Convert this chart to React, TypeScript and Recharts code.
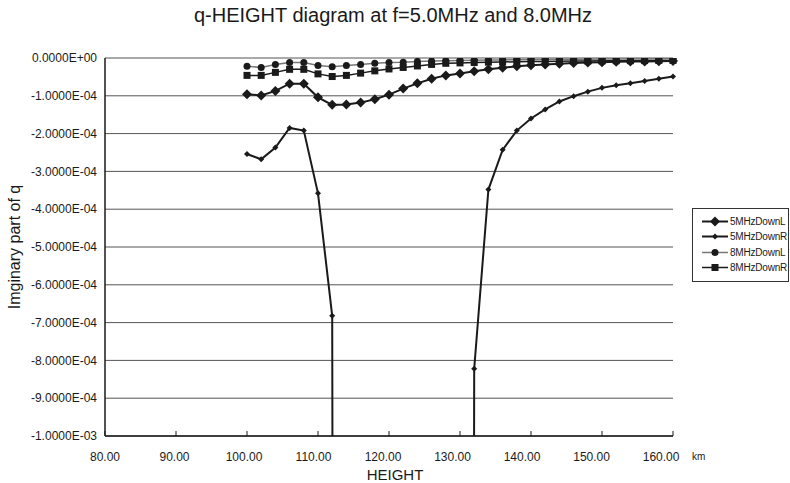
import React from "react"
import { LineChart, Line, XAxis, YAxis, CartesianGrid } from "recharts"

const heights = [100, 102, 104, 106, 108, 110, 112, 114, 116, 118, 120, 122, 124, 126, 128, 130, 132, 134, 136, 138, 140, 142, 144, 146, 148, 150, 152, 154, 156, 158, 160]

const down5L = [-0.96e-4, -0.99e-4, -0.87e-4, -0.68e-4, -0.68e-4, -1.04e-4, -1.24e-4, -1.23e-4, -1.18e-4, -1.09e-4, -0.97e-4, -0.81e-4, -0.67e-4, -0.55e-4, -0.46e-4, -0.41e-4, -0.35e-4, -0.30e-4, -0.26e-4, -0.22e-4, -0.19e-4, -0.17e-4, -0.15e-4, -0.13e-4, -0.12e-4, -0.11e-4, -0.10e-4, -0.095e-4, -0.09e-4, -0.085e-4, -0.08e-4]
// 114..130 fall far below the plotted range
const down5R = [-2.54e-4, -2.68e-4, -2.37e-4, -1.85e-4, -1.92e-4, -3.58e-4, -6.82e-4, -2.1e-2, -3.4e-2, -4.5e-2, -5.2e-2, -5.0e-2, -4.4e-2, -3.6e-2, -2.9e-2, -2.2e-2, -8.22e-4, -3.48e-4, -2.43e-4, -1.92e-4, -1.60e-4, -1.36e-4, -1.15e-4, -1.01e-4, -0.89e-4, -0.79e-4, -0.72e-4, -0.67e-4, -0.61e-4, -0.55e-4, -0.49e-4]
const down8L = [-0.22e-4, -0.25e-4, -0.17e-4, -0.12e-4, -0.12e-4, -0.20e-4, -0.23e-4, -0.20e-4, -0.17e-4, -0.14e-4, -0.12e-4, -0.11e-4, -0.09e-4, -0.08e-4, -0.07e-4, -0.065e-4, -0.06e-4, -0.055e-4, -0.05e-4, -0.045e-4, -0.04e-4, -0.038e-4, -0.035e-4, -0.033e-4, -0.03e-4, -0.028e-4, -0.026e-4, -0.024e-4, -0.022e-4, -0.02e-4, -0.02e-4]
const down8R = [-0.46e-4, -0.46e-4, -0.38e-4, -0.30e-4, -0.30e-4, -0.42e-4, -0.49e-4, -0.46e-4, -0.40e-4, -0.34e-4, -0.29e-4, -0.25e-4, -0.21e-4, -0.17e-4, -0.14e-4, -0.13e-4, -0.12e-4, -0.11e-4, -0.105e-4, -0.10e-4, -0.095e-4, -0.09e-4, -0.085e-4, -0.08e-4, -0.078e-4, -0.075e-4, -0.072e-4, -0.07e-4, -0.068e-4, -0.066e-4, -0.065e-4]

const xTicks = [80, 90, 100, 110, 120, 130, 140, 150, 160]
const yTicks = [0, -1e-4, -2e-4, -3e-4, -4e-4, -5e-4, -6e-4, -7e-4, -8e-4, -9e-4, -1e-3]

const data = heights.map((h, i) => ({
  h,
  d5L: down5L[i],
  d5R: down5R[i],
  d8L: down8L[i],
  d8R: down8R[i],
}))

const FONT = '"Liberation Sans", Arial, sans-serif'
const INK = "#1a1a1a"

const fmtExp = (v: number) => {
  if (v === 0) return "0.0000E+00"
  const [m, e] = v.toExponential(4).split("e")
  const n = parseInt(e, 10)
  return `${m}E${n < 0 ? "-" : "+"}${String(Math.abs(n)).padStart(2, "0")}`
}

const diamond = (s: number) => (props: any) => {
  const { cx, cy, index } = props
  if (cx == null || cy == null) return <g key={index} />
  return <path key={index} d={`M${cx},${cy - s}L${cx + s},${cy}L${cx},${cy + s}L${cx - s},${cy}Z`} fill={INK} />
}
const circle = (r: number) => (props: any) => {
  const { cx, cy, index } = props
  if (cx == null || cy == null) return <g key={index} />
  return <circle key={index} cx={cx} cy={cy} r={r} fill={INK} />
}
const square = (s: number) => (props: any) => {
  const { cx, cy, index } = props
  if (cx == null || cy == null) return <g key={index} />
  return <rect key={index} x={cx - s} y={cy - s} width={s * 2} height={s * 2} fill={INK} />
}

const XTick = (props: any) => {
  const { x, y, payload } = props
  const lx = x - (x - 105) * 0.021
  return (
    <g>
      <line x1={x} y1={y} x2={x} y2={y - 5} stroke={INK} />
      <text x={lx} y={y + 25} textAnchor="middle" fontSize={12} fill={INK} fontFamily={FONT}>
        {Number(payload.value).toFixed(2)}
      </text>
    </g>
  )
}

const legendItems = [
  { name: "5MHzDownL", marker: "bigDiamond", stroke: INK, width: 2 },
  { name: "5MHzDownR", marker: "smallDiamond", stroke: INK, width: 2 },
  { name: "8MHzDownL", marker: "circle", stroke: "#777", width: 1.5 },
  { name: "8MHzDownR", marker: "square", stroke: INK, width: 1.5 },
]

const LegendMarker = ({ kind }: { kind: string }) => {
  if (kind === "bigDiamond") return <path d="M13,1.5L18,6.5L13,11.5L8,6.5Z" fill={INK} />
  if (kind === "smallDiamond") return <path d="M13,3.5L16,6.5L13,9.5L10,6.5Z" fill={INK} />
  if (kind === "circle") return <circle cx={13} cy={6.5} r={3.5} fill={INK} />
  return <rect x={9.5} y={3} width={7} height={7} fill={INK} />
}

export default function App() {
  return (
    <div style={{ position: "relative", width: 790, height: 483, background: "#fff", fontFamily: FONT }}>
      <style>{"body{margin:0}"}</style>
      <div style={{ position: "absolute", top: 4, left: 0, width: 786, textAlign: "center", fontSize: 20, color: INK }}>
        q-HEIGHT diagram at f=5.0MHz and 8.0MHz
      </div>
      <LineChart width={790} height={483} data={data} margin={{ top: 58, right: 117, bottom: 17, left: 15 }}>
        <CartesianGrid horizontal vertical={false} stroke="#555" strokeWidth={1} />
        <XAxis
          type="number"
          dataKey="h"
          domain={[80, 160]}
          ticks={xTicks}
          height={30}
          tickSize={0}
          tickMargin={0}
          tick={<XTick />}
          axisLine={{ stroke: INK, strokeWidth: 1.5 }}
          tickLine={false}
          label={{
            content: () => (
              <g fontFamily={FONT} fill={INK}>
                <text x={395} y={480} textAnchor="middle" fontSize={15}>HEIGHT</text>
                <text x={692} y={460} fontSize={10}>km</text>
              </g>
            ),
          }}
        />
        <YAxis
          type="number"
          domain={[-0.001, 0]}
          ticks={yTicks}
          allowDataOverflow
          width={90}
          tickLine={false}
          tickSize={6}
          tickMargin={2}
          tickFormatter={fmtExp}
          tick={{ fontSize: 12, fill: INK, fontFamily: FONT }}
          axisLine={{ stroke: INK, strokeWidth: 1.5 }}
          label={{
            content: () => (
              <text x={20} y={247} transform="rotate(-90 20 247)" textAnchor="middle" fontSize={16} fill={INK} fontFamily={FONT}>
                Imginary part of q
              </text>
            ),
          }}
        />
        <Line dataKey="d8L" stroke="#777" strokeWidth={1.5} dot={circle(3.5)} isAnimationActive={false} />
        <Line dataKey="d8R" stroke={INK} strokeWidth={1.5} dot={square(3.5)} isAnimationActive={false} />
        <Line dataKey="d5L" stroke={INK} strokeWidth={2} dot={diamond(5)} isAnimationActive={false} />
        <Line dataKey="d5R" stroke={INK} strokeWidth={2} dot={diamond(3)} isAnimationActive={false} />
      </LineChart>
      <div
        style={{
          position: "absolute",
          left: 692,
          top: 208,
          width: 97,
          height: 74,
          border: "1px solid #333",
          background: "#fff",
          paddingTop: 5,
          boxSizing: "border-box",
        }}
      >
        {legendItems.map((it) => (
          <div key={it.name} style={{ display: "flex", alignItems: "center", height: 15.3 }}>
            <svg width={37} height={13} style={{ flex: "none" }}>
              <line x1={9} y1={6.5} x2={35} y2={6.5} stroke={it.stroke} strokeWidth={it.width} />
              <g transform="translate(9,0)">
                <LegendMarker kind={it.marker} />
              </g>
            </svg>
            <span style={{ fontSize: 10, letterSpacing: -0.2, color: INK, whiteSpace: "nowrap" }}>{it.name}</span>
          </div>
        ))}
      </div>
    </div>
  )
}
